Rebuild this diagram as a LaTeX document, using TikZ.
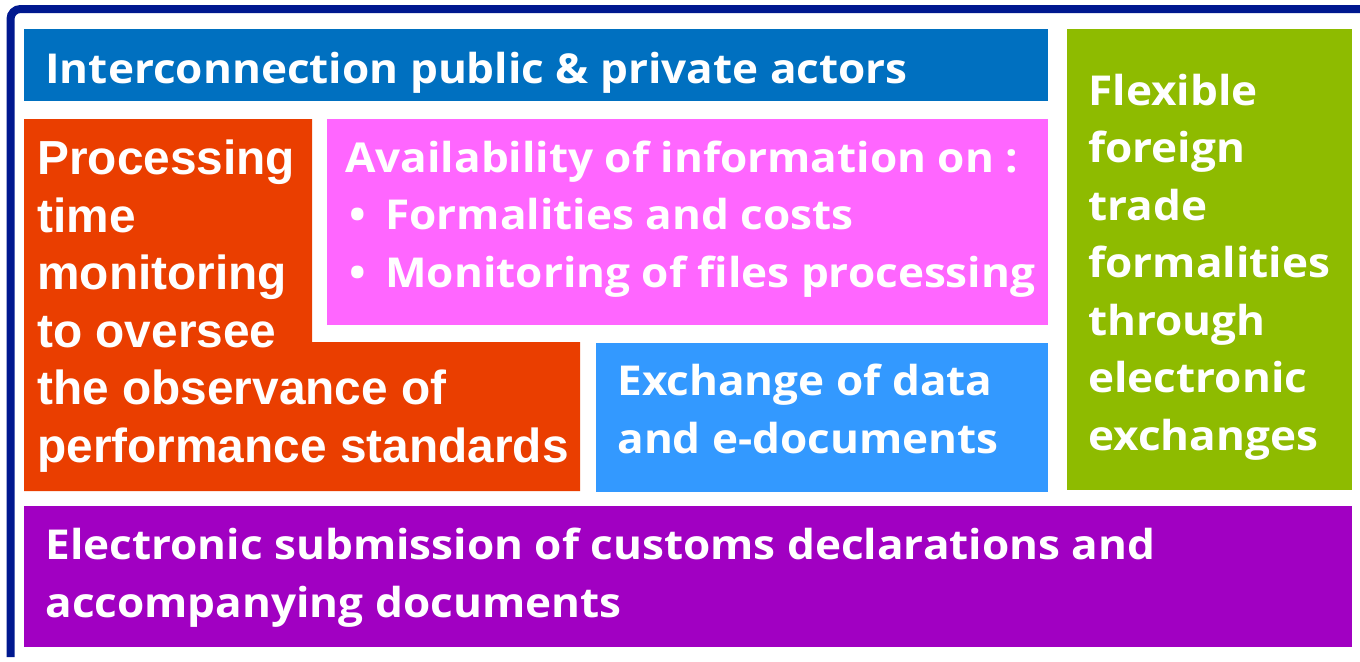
\documentclass[tikz,border=0pt]{standalone}
\usepackage{fontspec}
\setmainfont{Open Sans}[FakeStretch=1.07]
\newfontfamily\arialfont{Liberation Sans}

\definecolor{framecol}{HTML}{00188F}
\definecolor{actorsblue}{HTML}{0070C0}
\definecolor{timeorange}{HTML}{EA3E00}
\definecolor{infopink}{HTML}{FF66FF}
\definecolor{exchblue}{HTML}{3399FF}
\definecolor{tradegreen}{HTML}{8EBB00}
\definecolor{declpurple}{HTML}{A100C2}

\newcommand{\infobullet}{\makebox[20pt][l]{\hspace{2pt}\textbullet}}

\tikzset{
  boxtext/.style={anchor=base west, inner sep=0pt, text=white, align=left,
    font=\bfseries\fontsize{20.6}{28.75}\selectfont},
  arialtext/.style={boxtext, font=\arialfont\bfseries\fontsize{23.9}{28.75}\selectfont}
}

\begin{document}
\begin{tikzpicture}[x=0.5pt, y=-0.5pt]

    \useasboundingbox (0,0) rectangle (1360,661);

    % Rahmen
    \draw[framecol, line width=4pt, rounded corners=5pt] (1365,9) -- (10.5,9) -- (10.5,657);

    % Kaesten
    \fill[actorsblue] (24,29) rectangle (1048,101);
    \fill[tradegreen] (1067,29) rectangle (1352,490);
    \fill[timeorange] (24,119) -- (312,119) -- (312,342) -- (580,342) -- (580,491) -- (24,491) -- cycle;
    \fill[infopink] (327,119) rectangle (1048,325);
    \fill[exchblue] (596,343) rectangle (1048,492);
    \fill[declpurple] (24,506) rectangle (1352,647);

    % Texte (Anker an der Grundlinie der letzten Zeile)
    \node[boxtext] (actors) at (45,83) {Interconnection public \& private actors};

    \node[arialtext] (monitor) at (37,462) {Processing\\time\\monitoring\\to oversee\\the observance of\\performance standards};

    \node[boxtext] (info) at (345,287) {Availability of information on :\\
      \infobullet Formalities and costs\\
      \infobullet Monitoring of files processing};

    \node[boxtext] (exchange) at (617,453) {Exchange of data\\and e-documents};

    \node[boxtext] (trade) at (1088,450) {Flexible\\foreign\\trade\\formalities\\through\\electronic\\exchanges};

    \node[boxtext] (submission) at (45,617) {Electronic submission of customs declarations and\\accompanying documents};

\end{tikzpicture}
\end{document}
